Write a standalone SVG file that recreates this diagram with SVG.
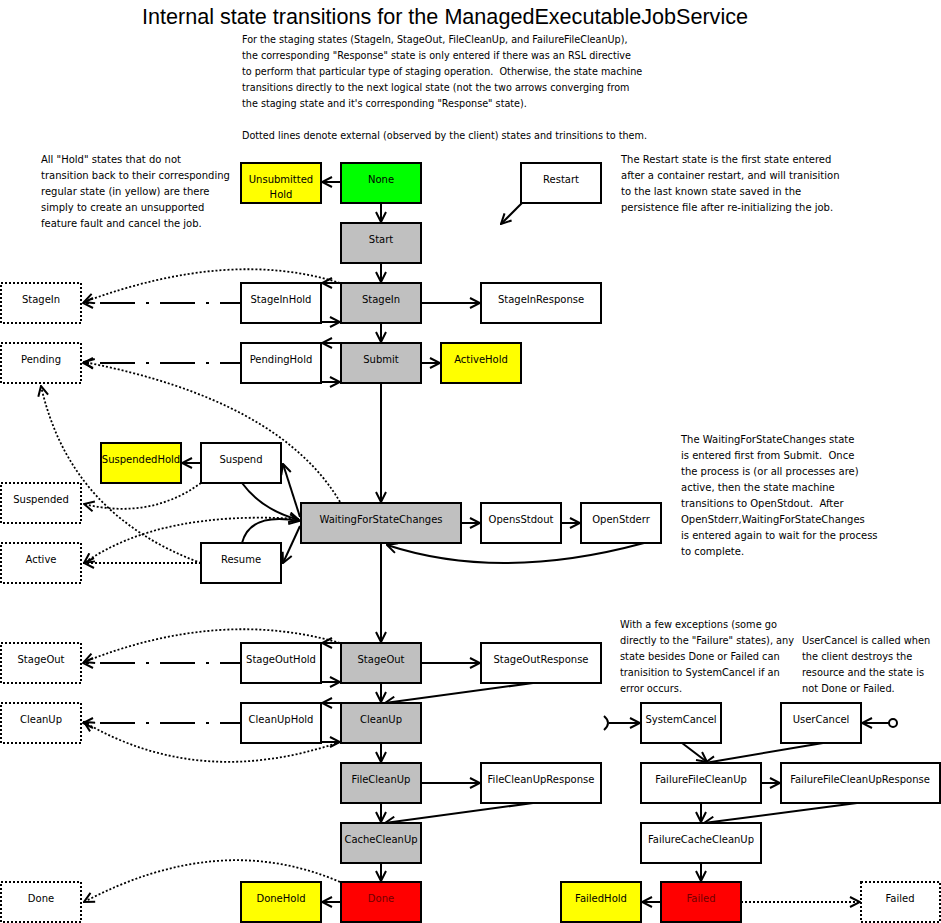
<svg xmlns="http://www.w3.org/2000/svg" width="941" height="923" viewBox="0 0 941 923">
<defs>
<marker id="ah" viewBox="0 0 12 12" refX="11" refY="6" markerWidth="12" markerHeight="12" markerUnits="userSpaceOnUse" orient="auto"><path d="M1,1 L11,6 L1,11" fill="none" stroke="#000" stroke-width="2"/></marker>
<style>
text{font-family:"DejaVu Sans",sans-serif;font-size:10px;fill:#000}
.lbl{text-anchor:middle}
.title{font-family:"Liberation Sans",Arial,sans-serif;font-size:22px}
.sm{font-size:9.8px}
.box{fill:#fff;stroke:#000;stroke-width:2}
.gray{fill:#c0c0c0}
.yel{fill:#ffff00}
.grn{fill:#00ff00}
.red{fill:#ff0000}
.ext{fill:#fff;stroke:#000;stroke-width:2;stroke-dasharray:2 2}
.c{fill:none;stroke:#000;stroke-width:2;marker-end:url(#ah)}
.d{stroke-dasharray:2 2;stroke-width:1.8}
.dd{stroke-dasharray:35 11 3 11;stroke-dashoffset:14}
.rt{fill:#700000}
</style>
</defs>
<rect width="941" height="923" fill="#fff"/>

<g id="notes">
<text class="title" x="142" y="24" textLength="606" lengthAdjust="spacingAndGlyphs">Internal state transitions for the ManagedExecutableJobService</text>
<g transform="translate(242,0) scale(0.965,1)">
<text x="0" y="43" xml:space="preserve">For the staging states (StageIn, StageOut, FileCleanUp, and FailureFileCleanUp),</text>
<text x="0" y="59" xml:space="preserve">the corresponding "Response" state is only entered if there was an RSL directive</text>
<text x="0" y="75" xml:space="preserve">to perform that particular type of staging operation.  Otherwise, the state machine</text>
<text x="0" y="91" xml:space="preserve">transitions directly to the next logical state (not the two arrows converging from</text>
<text x="0" y="107" xml:space="preserve">the staging state and it's corresponding "Response" state).</text>
<text x="0" y="139" xml:space="preserve">Dotted lines denote external (observed by the client) states and trinsitions to them.</text>
</g>
<text x="41" y="163">All "Hold" states that do not</text>
<text x="41" y="179">transition back to their corresponding</text>
<text x="41" y="195">regular state (in yellow) are there</text>
<text x="41" y="211">simply to create an unsupported</text>
<text x="41" y="227">feature fault and cancel the job.</text>
<text x="621" y="163">The Restart state is the first state entered</text>
<text x="621" y="179">after a container restart, and will tranisition</text>
<text x="621" y="195">to the last known state saved in the</text>
<text x="621" y="211">persistence file after re-initializing the job.</text>
<text x="681" y="443">The WaitingForStateChanges state</text>
<text x="681" y="459" xml:space="preserve">is entered first from Submit.  Once</text>
<text x="681" y="475">the process is (or all processes are)</text>
<text x="681" y="491">active, then the state machine</text>
<text x="681" y="507" xml:space="preserve">transitions to OpenStdout.  After</text>
<text x="681" y="523">OpenStderr,WaitingForStateChanges</text>
<text x="681" y="539">is entered again to wait for the process</text>
<text x="681" y="555">to complete.</text>
<text class="sm" x="620" y="628">With a few exceptions (some go</text>
<text class="sm" x="620" y="644">directly to the "Failure" states), any</text>
<text class="sm" x="620" y="660">state besides Done or Failed can</text>
<text class="sm" x="620" y="676">tranisition to SystemCancel if an</text>
<text class="sm" x="620" y="692">error occurs.</text>
<text class="sm" x="802" y="644">UserCancel is called when</text>
<text class="sm" x="802" y="660">the client destroys the</text>
<text class="sm" x="802" y="676">resource and the state is</text>
<text class="sm" x="802" y="692">not Done or Failed.</text>
</g>

<g id="connectors">
<path class="c" d="M381,203 L381,222"/>
<path class="c" d="M381,263 L381,282"/>
<path class="c" d="M381,323 L381,342"/>
<path class="c" d="M381,383 L381,502"/>
<path class="c" d="M381,543 L381,642"/>
<path class="c" d="M381,683 L381,702"/>
<path class="c" d="M381,743 L381,762"/>
<path class="c" d="M381,803 L381,822"/>
<path class="c" d="M381,863 L381,881"/>
<path class="c" d="M341,182 L322,182"/>
<path class="c" d="M341,283 L322,283"/>
<path class="c" d="M321,322 L340,322"/>
<path class="c" d="M341,343 L322,343"/>
<path class="c" d="M321,382 L340,382"/>
<path class="c" d="M341,643 L322,643"/>
<path class="c" d="M321,682 L340,682"/>
<path class="c" d="M341,703 L322,703"/>
<path class="c" d="M321,742 L340,742"/>
<path class="c" d="M341,902 L322,902"/>
<path class="c" d="M421,303 L480,303"/>
<path class="c" d="M421,363 L440,363"/>
<path class="c" d="M421,663 L480,663"/>
<path class="c" d="M533,683 L385,703"/>
<path class="c" d="M421,783 L480,783"/>
<path class="c" d="M533,803 L385,823"/>
<path class="c" d="M461,523 L480,523"/>
<path class="c" d="M561,523 L580,523"/>
<path class="c" d="M644,543 Q500,582 387,545"/>
<path class="c" d="M522,203 L501,224"/>
<path class="c dd" d="M241,303 L83,303"/>
<path class="c dd" d="M241,363 L83,363"/>
<path class="c dd" d="M241,663 L83,663"/>
<path class="c dd" d="M241,723 L83,723"/>
<path class="c d" d="M340,283 Q230,248 84,302"/>
<path class="c d" d="M340,502 Q280,400 84,362"/>
<path class="c d" d="M201,563 Q70,515 41,386"/>
<path class="c d" d="M201,483 Q150,520 84,504"/>
<path class="c d" d="M299,519 Q160,510 84,563"/>
<path class="c d" d="M201,563 L84,563"/>
<path class="c d" d="M340,643 Q220,608 84,662"/>
<path class="c d" d="M340,742 Q200,790 84,722"/>
<path class="c d" d="M340,882 Q220,830 84,902"/>
<path class="c d" d="M741,902 L860,902"/>
<path class="c" d="M201,463 L182,463"/>
<path class="c" d="M242,483 Q262,510 299,520"/>
<path class="c" d="M300,517 L283,464"/>
<path class="c" d="M300,526 L283,563"/>
<path class="c" d="M242,543 Q250,512 299,521"/>
<path fill="none" stroke="#000" stroke-width="2" d="M604,716 Q612,723 604,730"/>
<path class="c" d="M609,723 L640,723"/>
<circle cx="893" cy="723" r="4" fill="#fff" stroke="#000" stroke-width="2"/>
<path class="c" d="M889,723 L862,723"/>
<path class="c" d="M682,743 L707,762"/>
<path class="c" d="M823,743 L705,763"/>
<path class="c" d="M761,783 L780,783"/>
<path class="c" d="M701,803 L701,822"/>
<path class="c" d="M857,803 L704,823"/>
<path class="c" d="M701,863 L701,881"/>
<path class="c" d="M661,902 L642,902"/>
</g>

<g id="n-unsubmittedhold"><rect class="box yel" x="241" y="163" width="80" height="40"/><text class="lbl" x="281" y="183">Unsubmitted</text><text class="lbl" x="281" y="198">Hold</text></g>
<g id="n-none"><rect class="box grn" x="341" y="163" width="80" height="40"/><text class="lbl" x="381" y="183">None</text></g>
<g id="n-restart"><rect class="box" x="521" y="163" width="80" height="40"/><text class="lbl" x="561" y="183">Restart</text></g>
<g id="n-start"><rect class="box gray" x="341" y="223" width="80" height="40"/><text class="lbl" x="381" y="243">Start</text></g>
<g id="n-stagein-ext"><rect class="ext" x="1" y="283" width="80" height="40"/><text class="lbl" x="41" y="303">StageIn</text></g>
<g id="n-stageinhold"><rect class="box" x="241" y="283" width="80" height="40"/><text class="lbl" x="281" y="303">StageInHold</text></g>
<g id="n-stagein"><rect class="box gray" x="341" y="283" width="80" height="40"/><text class="lbl" x="381" y="303">StageIn</text></g>
<g id="n-stageinresponse"><rect class="box" x="481" y="283" width="120" height="40"/><text class="lbl" x="541" y="303">StageInResponse</text></g>
<g id="n-pending-ext"><rect class="ext" x="1" y="343" width="80" height="40"/><text class="lbl" x="41" y="363">Pending</text></g>
<g id="n-pendinghold"><rect class="box" x="241" y="343" width="80" height="40"/><text class="lbl" x="281" y="363">PendingHold</text></g>
<g id="n-submit"><rect class="box gray" x="341" y="343" width="80" height="40"/><text class="lbl" x="381" y="363">Submit</text></g>
<g id="n-activehold"><rect class="box yel" x="441" y="343" width="80" height="40"/><text class="lbl" x="481" y="363">ActiveHold</text></g>
<g id="n-suspendedhold"><rect class="box yel" x="101" y="443" width="80" height="40"/><text class="lbl" x="141" y="463">SuspendedHold</text></g>
<g id="n-suspend"><rect class="box" x="201" y="443" width="80" height="40"/><text class="lbl" x="241" y="463">Suspend</text></g>
<g id="n-suspended-ext"><rect class="ext" x="1" y="483" width="80" height="40"/><text class="lbl" x="41" y="503">Suspended</text></g>
<g id="n-wfsc"><rect class="box gray" x="301" y="503" width="160" height="40"/><text class="lbl" x="381" y="523">WaitingForStateChanges</text></g>
<g id="n-opensstdout"><rect class="box" x="481" y="503" width="80" height="40"/><text class="lbl" x="521" y="523">OpensStdout</text></g>
<g id="n-openstderr"><rect class="box" x="581" y="503" width="80" height="40"/><text class="lbl" x="621" y="523">OpenStderr</text></g>
<g id="n-active-ext"><rect class="ext" x="1" y="543" width="80" height="40"/><text class="lbl" x="41" y="563">Active</text></g>
<g id="n-resume"><rect class="box" x="201" y="543" width="80" height="40"/><text class="lbl" x="241" y="563">Resume</text></g>
<g id="n-stageout-ext"><rect class="ext" x="1" y="643" width="80" height="40"/><text class="lbl" x="41" y="663">StageOut</text></g>
<g id="n-stageouthold"><rect class="box" x="241" y="643" width="80" height="40"/><text class="lbl" x="281" y="663">StageOutHold</text></g>
<g id="n-stageout"><rect class="box gray" x="341" y="643" width="80" height="40"/><text class="lbl" x="381" y="663">StageOut</text></g>
<g id="n-stageoutresponse"><rect class="box" x="481" y="643" width="120" height="40"/><text class="lbl" x="541" y="663">StageOutResponse</text></g>
<g id="n-cleanup-ext"><rect class="ext" x="1" y="703" width="80" height="40"/><text class="lbl" x="41" y="723">CleanUp</text></g>
<g id="n-cleanuphold"><rect class="box" x="241" y="703" width="80" height="40"/><text class="lbl" x="281" y="723">CleanUpHold</text></g>
<g id="n-cleanup"><rect class="box gray" x="341" y="703" width="80" height="40"/><text class="lbl" x="381" y="723">CleanUp</text></g>
<g id="n-systemcancel"><rect class="box" x="641" y="703" width="80" height="40"/><text class="lbl" x="681" y="723">SystemCancel</text></g>
<g id="n-usercancel"><rect class="box" x="781" y="703" width="80" height="40"/><text class="lbl" x="821" y="723">UserCancel</text></g>
<g id="n-filecleanup"><rect class="box gray" x="341" y="763" width="80" height="40"/><text class="lbl" x="381" y="783">FileCleanUp</text></g>
<g id="n-filecleanupresponse"><rect class="box" x="481" y="763" width="120" height="40"/><text class="lbl" x="541" y="783">FileCleanUpResponse</text></g>
<g id="n-failurefilecleanup"><rect class="box" x="641" y="763" width="120" height="40"/><text class="lbl" x="701" y="783">FailureFileCleanUp</text></g>
<g id="n-failurefilecleanupresponse"><rect class="box" x="781" y="763" width="159" height="40"/><text class="lbl" x="860" y="783">FailureFileCleanUpResponse</text></g>
<g id="n-cachecleanup"><rect class="box gray" x="341" y="823" width="80" height="40"/><text class="lbl" x="381" y="843">CacheCleanUp</text></g>
<g id="n-failurecachecleanup"><rect class="box" x="641" y="823" width="120" height="40"/><text class="lbl" x="701" y="843">FailureCacheCleanUp</text></g>
<g id="n-done-ext"><rect class="ext" x="1" y="882" width="80" height="40"/><text class="lbl" x="41" y="902">Done</text></g>
<g id="n-donehold"><rect class="box yel" x="241" y="882" width="80" height="40"/><text class="lbl" x="281" y="902">DoneHold</text></g>
<g id="n-done"><rect class="box red" x="341" y="882" width="80" height="40"/><text class="lbl rt" x="381" y="902">Done</text></g>
<g id="n-failedhold"><rect class="box yel" x="561" y="882" width="80" height="40"/><text class="lbl" x="601" y="902">FailedHold</text></g>
<g id="n-failed"><rect class="box red" x="661" y="882" width="80" height="40"/><text class="lbl rt" x="701" y="902">Failed</text></g>
<g id="n-failed-ext"><rect class="ext" x="861" y="882" width="79" height="40"/><text class="lbl" x="900" y="902">Failed</text></g>
</svg>
